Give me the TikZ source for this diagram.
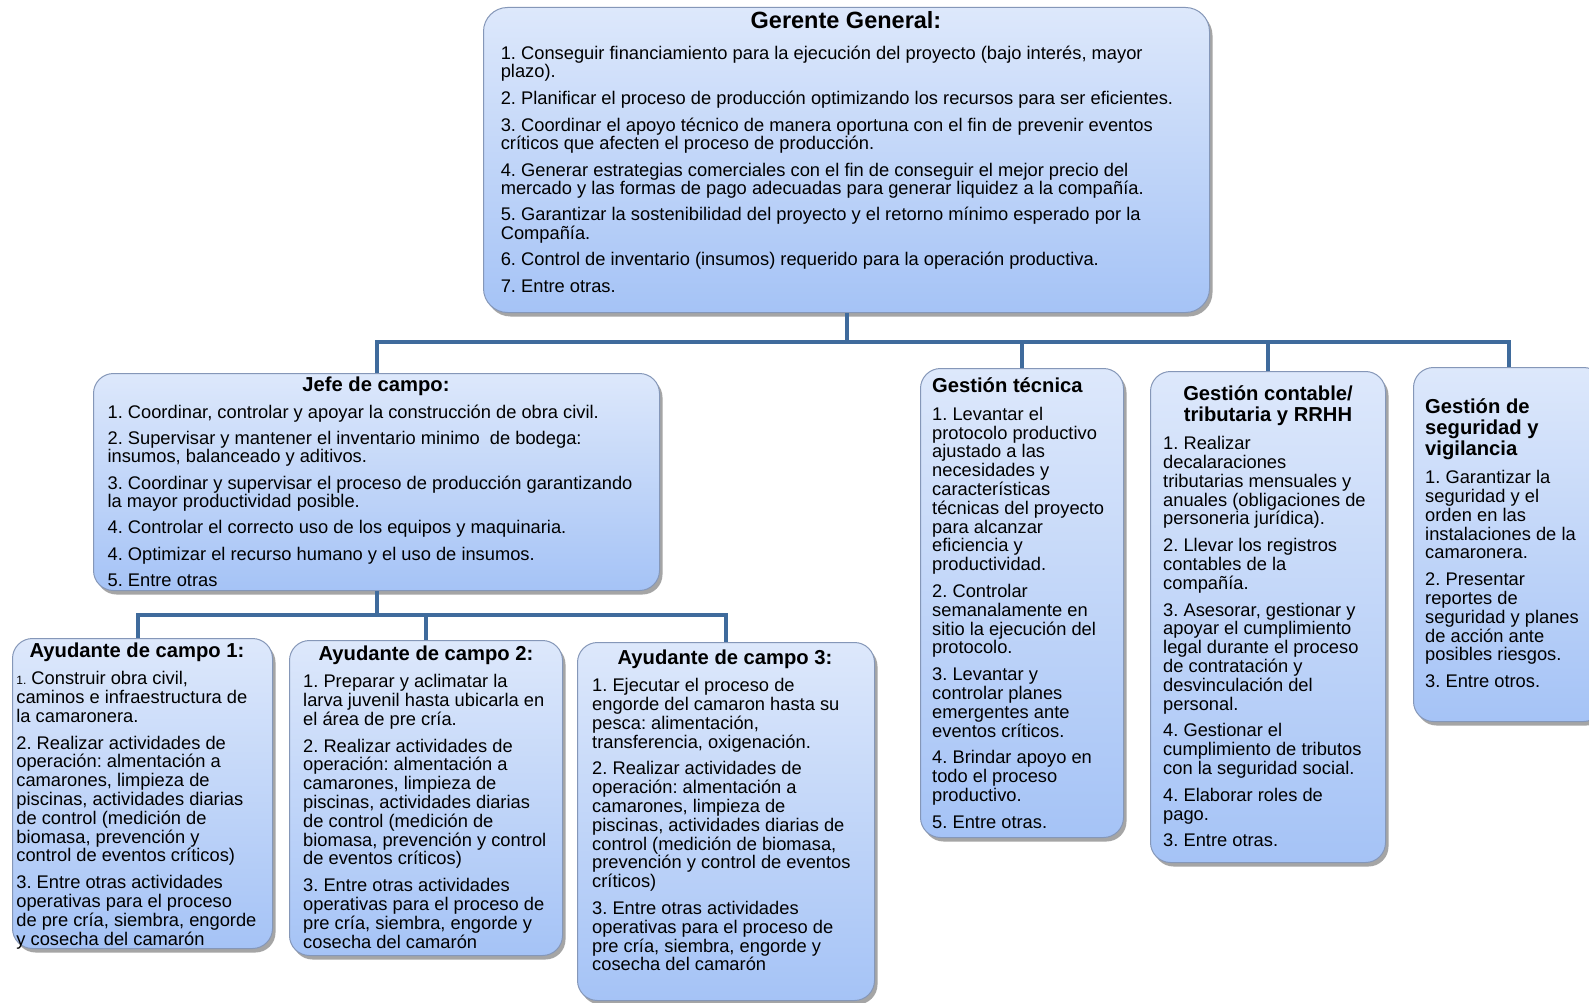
\documentclass[tikz,border=0pt]{standalone}
\usepackage{fontspec}
\setmainfont{Liberation Sans}
\usetikzlibrary{shadows}
\frenchspacing
\definecolor{topc}{HTML}{DDE8FB}
\definecolor{botc}{HTML}{A5C3F6}
\definecolor{bordc}{HTML}{8597B8}
\definecolor{connc}{HTML}{3F6B9C}
\tikzset{
  box/.style={anchor=north west, inner sep=0pt, draw=bordc, line width=1pt,
    rounded corners=20pt, top color=topc, bottom color=botc,
    drop shadow={shadow xshift=3pt, shadow yshift=-4pt, opacity=0.5, fill=black!70}},
  body/.style={anchor=north west, inner sep=0pt, align=left,
    font=\frenchspacing\fontsize{18.3}{18.8}\selectfont},
  bodyG/.style={anchor=north west, inner sep=0pt, align=left,
    font=\frenchspacing\fontsize{18.3}{18.2}\selectfont},
  ttl/.style={inner sep=0pt, font=\bfseries\fontsize{20.2}{21}\selectfont},
  conn/.style={draw=connc, line width=4pt},
}
\newcommand{\fl}{\rule{0pt}{15pt}}
\newcommand{\ft}{\rule{0pt}{16pt}}
\begin{document}
\begin{tikzpicture}[x=1pt,y=-1pt]
\useasboundingbox (0,0) rectangle (1589,1003);
\clip (0,0) rectangle (1589,1003);
\fill[white] (0,0) rectangle (1589,1003);

% boxes
\node[box, minimum width=726pt, minimum height=305pt, rounded corners=24pt] (gg) at (483,7) {};
\node[box, minimum width=566pt, minimum height=217pt] (jefe) at (93,373) {};
\node[box, minimum width=203pt, minimum height=469pt] (tec) at (920,368) {};
\node[box, minimum width=235pt, minimum height=491pt] (cont) at (1150,371) {};
\node[box, minimum width=190pt, minimum height=354pt] (seg) at (1413,367) {};
\node[box, minimum width=260pt, minimum height=310pt] (ay1) at (12,638) {};
\node[box, minimum width=273pt, minimum height=315pt] (ay2) at (289,640) {};
\node[box, minimum width=297pt, minimum height=358pt] (ay3) at (577,642) {};

% connectors
\coordinate (bus) at (846,342);
\coordinate (bus2) at (377,615);
\draw[conn] (gg.south) -- (gg.south |- bus);
\draw[conn] (jefe.north) |- (seg.north |- bus) -- (seg.north);
\draw[conn] (tec.north) -- (tec.north |- bus);
\draw[conn] (cont.north) -- (cont.north |- bus);
\draw[conn] (jefe.south) -- (jefe.south |- bus2);
\draw[conn] ([xshift=-5pt]ay1.north) |- (ay3.north |- bus2) -- (ay3.north);
\draw[conn] (ay2.north) -- (ay2.north |- bus2);

% titles
\node[inner sep=0pt, anchor=base, font=\bfseries\fontsize{23.5}{24}\selectfont] (ggh) at (846,29) {Gerente General:};
\node[ttl, anchor=base] (jefeh) at (376,391) {Jefe de campo:};
\node[ttl, anchor=base] (ay1h) at (137,657) {Ayudante de campo 1:};
\node[ttl, anchor=base] (ay2h) at (426,660) {Ayudante de campo 2:};
\node[ttl, anchor=base] (ay3h) at (725,664) {Ayudante de campo 3:};
\node[ttl, anchor=base west] (tech) at (932,392) {Gestión técnica};
\node[ttl, anchor=north, align=center] (conth) at (1268,384.5) {\ft Gestión contable/\\tributaria y RRHH};
\node[ttl, anchor=north west, align=left] (segh) at (1425,397.5) {\ft Gestión de\\seguridad y\\vigilancia};

% texts
\node[bodyG] (ggt) at (500.6,44.3) {\fl 1. Conseguir financiamiento para la ejecución del proyecto (bajo interés, mayor\\
plazo).\\[8.5pt]
2. Planificar el proceso de producción optimizando los recursos para ser eficientes.\\[8.5pt]
3. Coordinar el apoyo técnico de manera oportuna con el fin de prevenir eventos\\
críticos que afecten el proceso de producción.\\[8.5pt]
4. Generar estrategias comerciales con el fin de conseguir el mejor precio del\\
mercado y las formas de pago adecuadas para generar liquidez a la compañía.\\[8.5pt]
5. Garantizar la sostenibilidad del proyecto y el retorno mínimo esperado por la\\
Compañía.\\[8.5pt]
6. Control de inventario (insumos) requerido para la operación productiva.\\[8.5pt]
7. Entre otras.};

\node[bodyG] (jefet) at (107.4,402.9) {\fl 1. Coordinar, controlar y apoyar la construcción de obra civil.\\[8.2pt]
2. Supervisar y mantener el inventario minimo\ \ de bodega:\\
insumos, balanceado y aditivos.\\[8.2pt]
3. Coordinar y supervisar el proceso de producción garantizando\\
la mayor productividad posible.\\[8.2pt]
4. Controlar el correcto uso de los equipos y maquinaria.\\[8.2pt]
4. Optimizar el recurso humano y el uso de insumos.\\[8.2pt]
5. Entre otras};

\node[body] (ay1t) at (16.2,669.5) {\fl {\fontsize{12}{12}\selectfont 1.} Construir obra civil,\\
caminos e infraestructura de\\
la camaronera.\\[8pt]
2. Realizar actividades de\\
operación: almentación a\\
camarones, limpieza de\\
piscinas, actividades diarias\\
de control (medición de\\
biomasa, prevención y\\
control de eventos críticos)\\[8pt]
3. Entre otras actividades\\
operativas para el proceso\\
de pre cría, siembra, engorde\\
y cosecha del camarón};

\node[body] (ay2t) at (303,672.5) {\fl 1. Preparar y aclimatar la\\
larva juvenil hasta ubicarla en\\
el área de pre cría.\\[8pt]
2. Realizar actividades de\\
operación: almentación a\\
camarones, limpieza de\\
piscinas, actividades diarias\\
de control (medición de\\
biomasa, prevención y control\\
de eventos críticos)\\[8pt]
3. Entre otras actividades\\
operativas para el proceso de\\
pre cría, siembra, engorde y\\
cosecha del camarón};

\node[body] (ay3t) at (592,676.5) {\fl 1. Ejecutar el proceso de\\
engorde del camaron hasta su\\
pesca: alimentación,\\
transferencia, oxigenación.\\[8pt]
2. Realizar actividades de\\
operación: almentación a\\
camarones, limpieza de\\
piscinas, actividades diarias de\\
control (medición de biomasa,\\
prevención y control de eventos\\
críticos)\\[8pt]
3. Entre otras actividades\\
operativas para el proceso de\\
pre cría, siembra, engorde y\\
cosecha del camarón};

\node[body] (tect) at (932,405) {\fl 1. Levantar el\\
protocolo productivo\\
ajustado a las\\
necesidades y\\
características\\
técnicas del proyecto\\
para alcanzar\\
eficiencia y\\
productividad.\\[8pt]
2. Controlar\\
semanalamente en\\
sitio la ejecución del\\
protocolo.\\[8pt]
3. Levantar y\\
controlar planes\\
emergentes ante\\
eventos críticos.\\[8pt]
4. Brindar apoyo en\\
todo el proceso\\
productivo.\\[8pt]
5. Entre otras.};

\node[body] (contt) at (1163,434.5) {\fl 1. Realizar\\
decalaraciones\\
tributarias mensuales y\\
anuales (obligaciones de\\
personeria jurídica).\\[8pt]
2. Llevar los registros\\
contables de la\\
compañía.\\[8pt]
3. Asesorar, gestionar y\\
apoyar el cumplimiento\\
legal durante el proceso\\
de contratación y\\
desvinculación del\\
personal.\\[8pt]
4. Gestionar el\\
cumplimiento de tributos\\
con la seguridad social.\\[8pt]
4. Elaborar roles de\\
pago.\\[8pt]
3. Entre otras.};

\node[body] (segt) at (1425,468.5) {\fl 1. Garantizar la\\
seguridad y el\\
orden en las\\
instalaciones de la\\
camaronera.\\[8pt]
2. Presentar\\
reportes de\\
seguridad y planes\\
de acción ante\\
posibles riesgos.\\[8pt]
3. Entre otros.};
\end{tikzpicture}
\end{document}
